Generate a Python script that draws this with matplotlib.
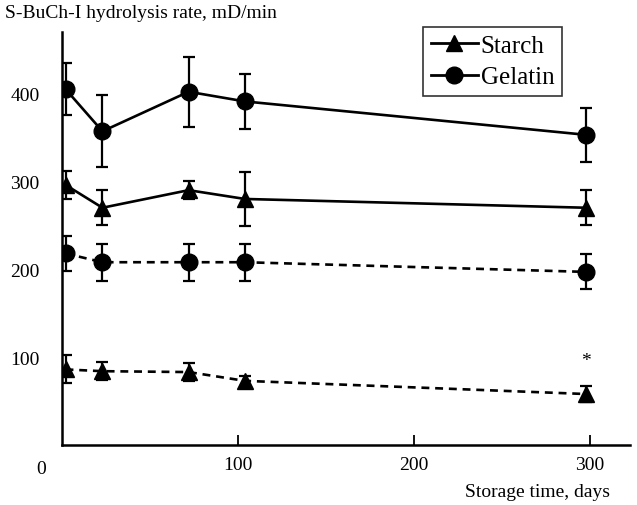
import matplotlib.pyplot as plt
from matplotlib.lines import Line2D

# Datos (días de almacenamiento)
dias = [2, 23, 72, 104, 298]

gelatina_1 = [405, 357, 402, 391, 353]
gelatina_1_err = [30, 41, 40, 31, 31]
almidon_1 = [296, 270, 290, 280, 270]
almidon_1_err = [16, 20, 10, 31, 20]

gelatina_2 = [218, 208, 208, 208, 197]
gelatina_2_err = [20, 21, 21, 21, 20]
almidon_2 = [86, 84, 83, 73, 58]
almidon_2_err = [16, 10, 10, 6, 9]

etiquetas = ['Starch', 'Gelatin']

plt.rcParams['font.family'] = ['Liberation Serif', 'DejaVu Serif']

fig = plt.figure(figsize=(6.37, 5.06), dpi=100)
ax = fig.add_axes([62 / 637, 1 - 446 / 506, 568 / 637, 413 / 506])

estilo = dict(color='black', markersize=12, elinewidth=1.6, capsize=4.5, capthick=1.6, lw=1.9)
guiones = (0, (3, 2.2))

ax.errorbar(dias, gelatina_1, yerr=gelatina_1_err, marker='o', ls='-', **estilo)
ax.errorbar(dias, almidon_1, yerr=almidon_1_err, marker='^', ls='-', **estilo)
ax.errorbar(dias, gelatina_2, yerr=gelatina_2_err, marker='o', ls=guiones, **estilo)
ax.errorbar(dias, almidon_2, yerr=almidon_2_err, marker='^', ls=guiones, **estilo)

ax.text(298, 96, '*', ha='center', va='center', fontsize=14)

ax.set_xlim(0, 323)
ax.set_ylim(0, 470)
ax.spines['top'].set_visible(False)
ax.spines['right'].set_visible(False)
ax.spines['left'].set_linewidth(1.8)
ax.spines['bottom'].set_linewidth(1.8)

ax.set_xticks([100, 200, 300])
ax.set_yticks([100, 200, 300, 400])
ax.tick_params(axis='x', direction='in', length=7, width=1.3, pad=8, labelsize=14)
ax.tick_params(axis='y', length=0, pad=16, labelsize=14)
ax.annotate('0', xy=(0, 0), xycoords='data', xytext=(-15, -17), textcoords='offset points',
            ha='center', va='center', fontsize=14, annotation_clip=False)

fig.text(5 / 637, 1 - 13 / 506, 'S-BuCh-I hydrolysis rate, mD/min', ha='left', va='center', fontsize=14)
fig.text(610 / 637, 1 - 493 / 506, 'Storage time, days', ha='right', va='center', fontsize=14)

manejadores = [Line2D([], [], color='black', lw=2, marker='^', markersize=11),
               Line2D([], [], color='black', lw=2, marker='o', markersize=12)]
leg = ax.legend(manejadores, etiquetas, loc='upper left', bbox_to_anchor=(423 / 637, 1 - 28 / 506),
                bbox_transform=fig.transFigure, fontsize=18, frameon=True, fancybox=False,
                edgecolor='black', handlelength=1.9, handletextpad=0.1, borderpad=0.3,
                labelspacing=0.35, borderaxespad=0)
leg.get_frame().set_linewidth(1.2)

fig.savefig('out.png', dpi=100)
